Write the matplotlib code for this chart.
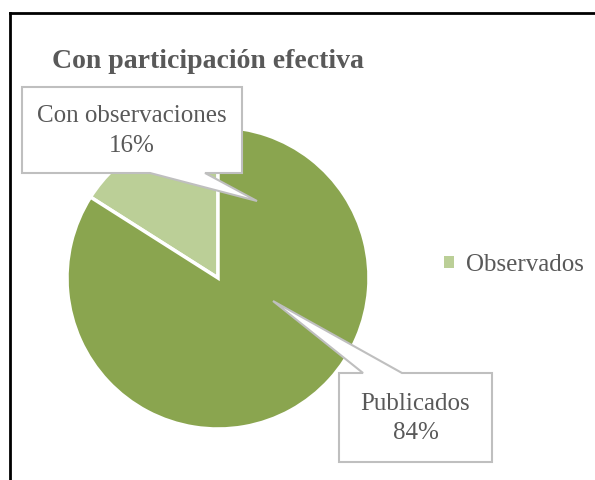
import matplotlib
matplotlib.use('Agg')
import matplotlib.pyplot as plt
from matplotlib.patches import Polygon, Patch
from matplotlib.lines import Line2D

# datos del grafico
categorias = ["Con observaciones", "Publicados"]
valores = [16, 84]
leyenda = ["Observados"]
titulo = "Con participación efectiva"

colores = ["#BBCF97", "#8AA54F"]
gris_texto = "#595959"
gris_borde = "#BFBFBF"
fuente = "Liberation Serif"

W, H = 595, 480
cx, cy, r = 218, 278, 151  # centro y radio del pie en pixeles

fig = plt.figure(figsize=(W / 100, H / 100), dpi=100)
ax = fig.add_axes([0, 0, 1, 1])

wedges, _ = ax.pie(valores, colors=colores, startangle=90, counterclock=True,
                   radius=1, wedgeprops=dict(edgecolor='white', linewidth=2.5))
# pie() cambia los limites, se ponen despues
ax.set_xlim(-cx / r, (W - cx) / r)
ax.set_ylim(-(H - cy) / r, cy / r)
ax.set_aspect('equal')
ax.axis('off')

def px(x, y):
    return ((x - cx) / r, (cy - y) / r)

# etiqueta con flecha tipo globo
def globo(L, T, R, B, b1, b2, tip, abajo, texto):
    if abajo:
        pts = [(L, T), (R, T), (R, B), (b2, B), tip, (b1, B), (L, B)]
    else:
        pts = [(L, T), (b1, T), tip, (b2, T), (R, T), (R, B), (L, B)]
    poly = Polygon([px(*p) for p in pts], closed=True, facecolor='white',
                   edgecolor=gris_borde, linewidth=1.5, zorder=5)
    ax.add_patch(poly)
    tx, ty = px((L + R) / 2, (T + B) / 2 + 1)
    ax.text(tx, ty, texto, ha='center', va='center', fontsize=18,
            family=fuente, color=gris_texto, linespacing=1.45, zorder=6)

pct = [v * 100 / sum(valores) for v in valores]
globo(22, 87, 242, 173, 150, 205, (257, 201), True,
      "%s\n%d%%" % (categorias[0], round(pct[0])))
globo(339, 373, 492, 462, 363, 402, (273, 301), False,
      "%s\n%d%%" % (categorias[1], round(pct[1])))

fig.text(52 / W, 1 - 62 / H, titulo, fontsize=20, fontweight='bold',
         family=fuente, color=gris_texto, va='center', ha='left')

fig.legend(handles=[Patch(facecolor=colores[0], edgecolor='none')], labels=leyenda,
           loc='center left', bbox_to_anchor=(421 / W, 1 - 265 / H), frameon=False,
           handlelength=0.4, handleheight=0.4, handletextpad=0.5,
           prop=dict(family=fuente, size=18), labelcolor=gris_texto)

# borde superior e izquierdo
fig.add_artist(Line2D([10 / W, 1], [1 - 13 / H] * 2, color='black', linewidth=2))
fig.add_artist(Line2D([10 / W] * 2, [0, 1 - 13 / H], color='black', linewidth=2))

plt.savefig("out.png", dpi=100)
